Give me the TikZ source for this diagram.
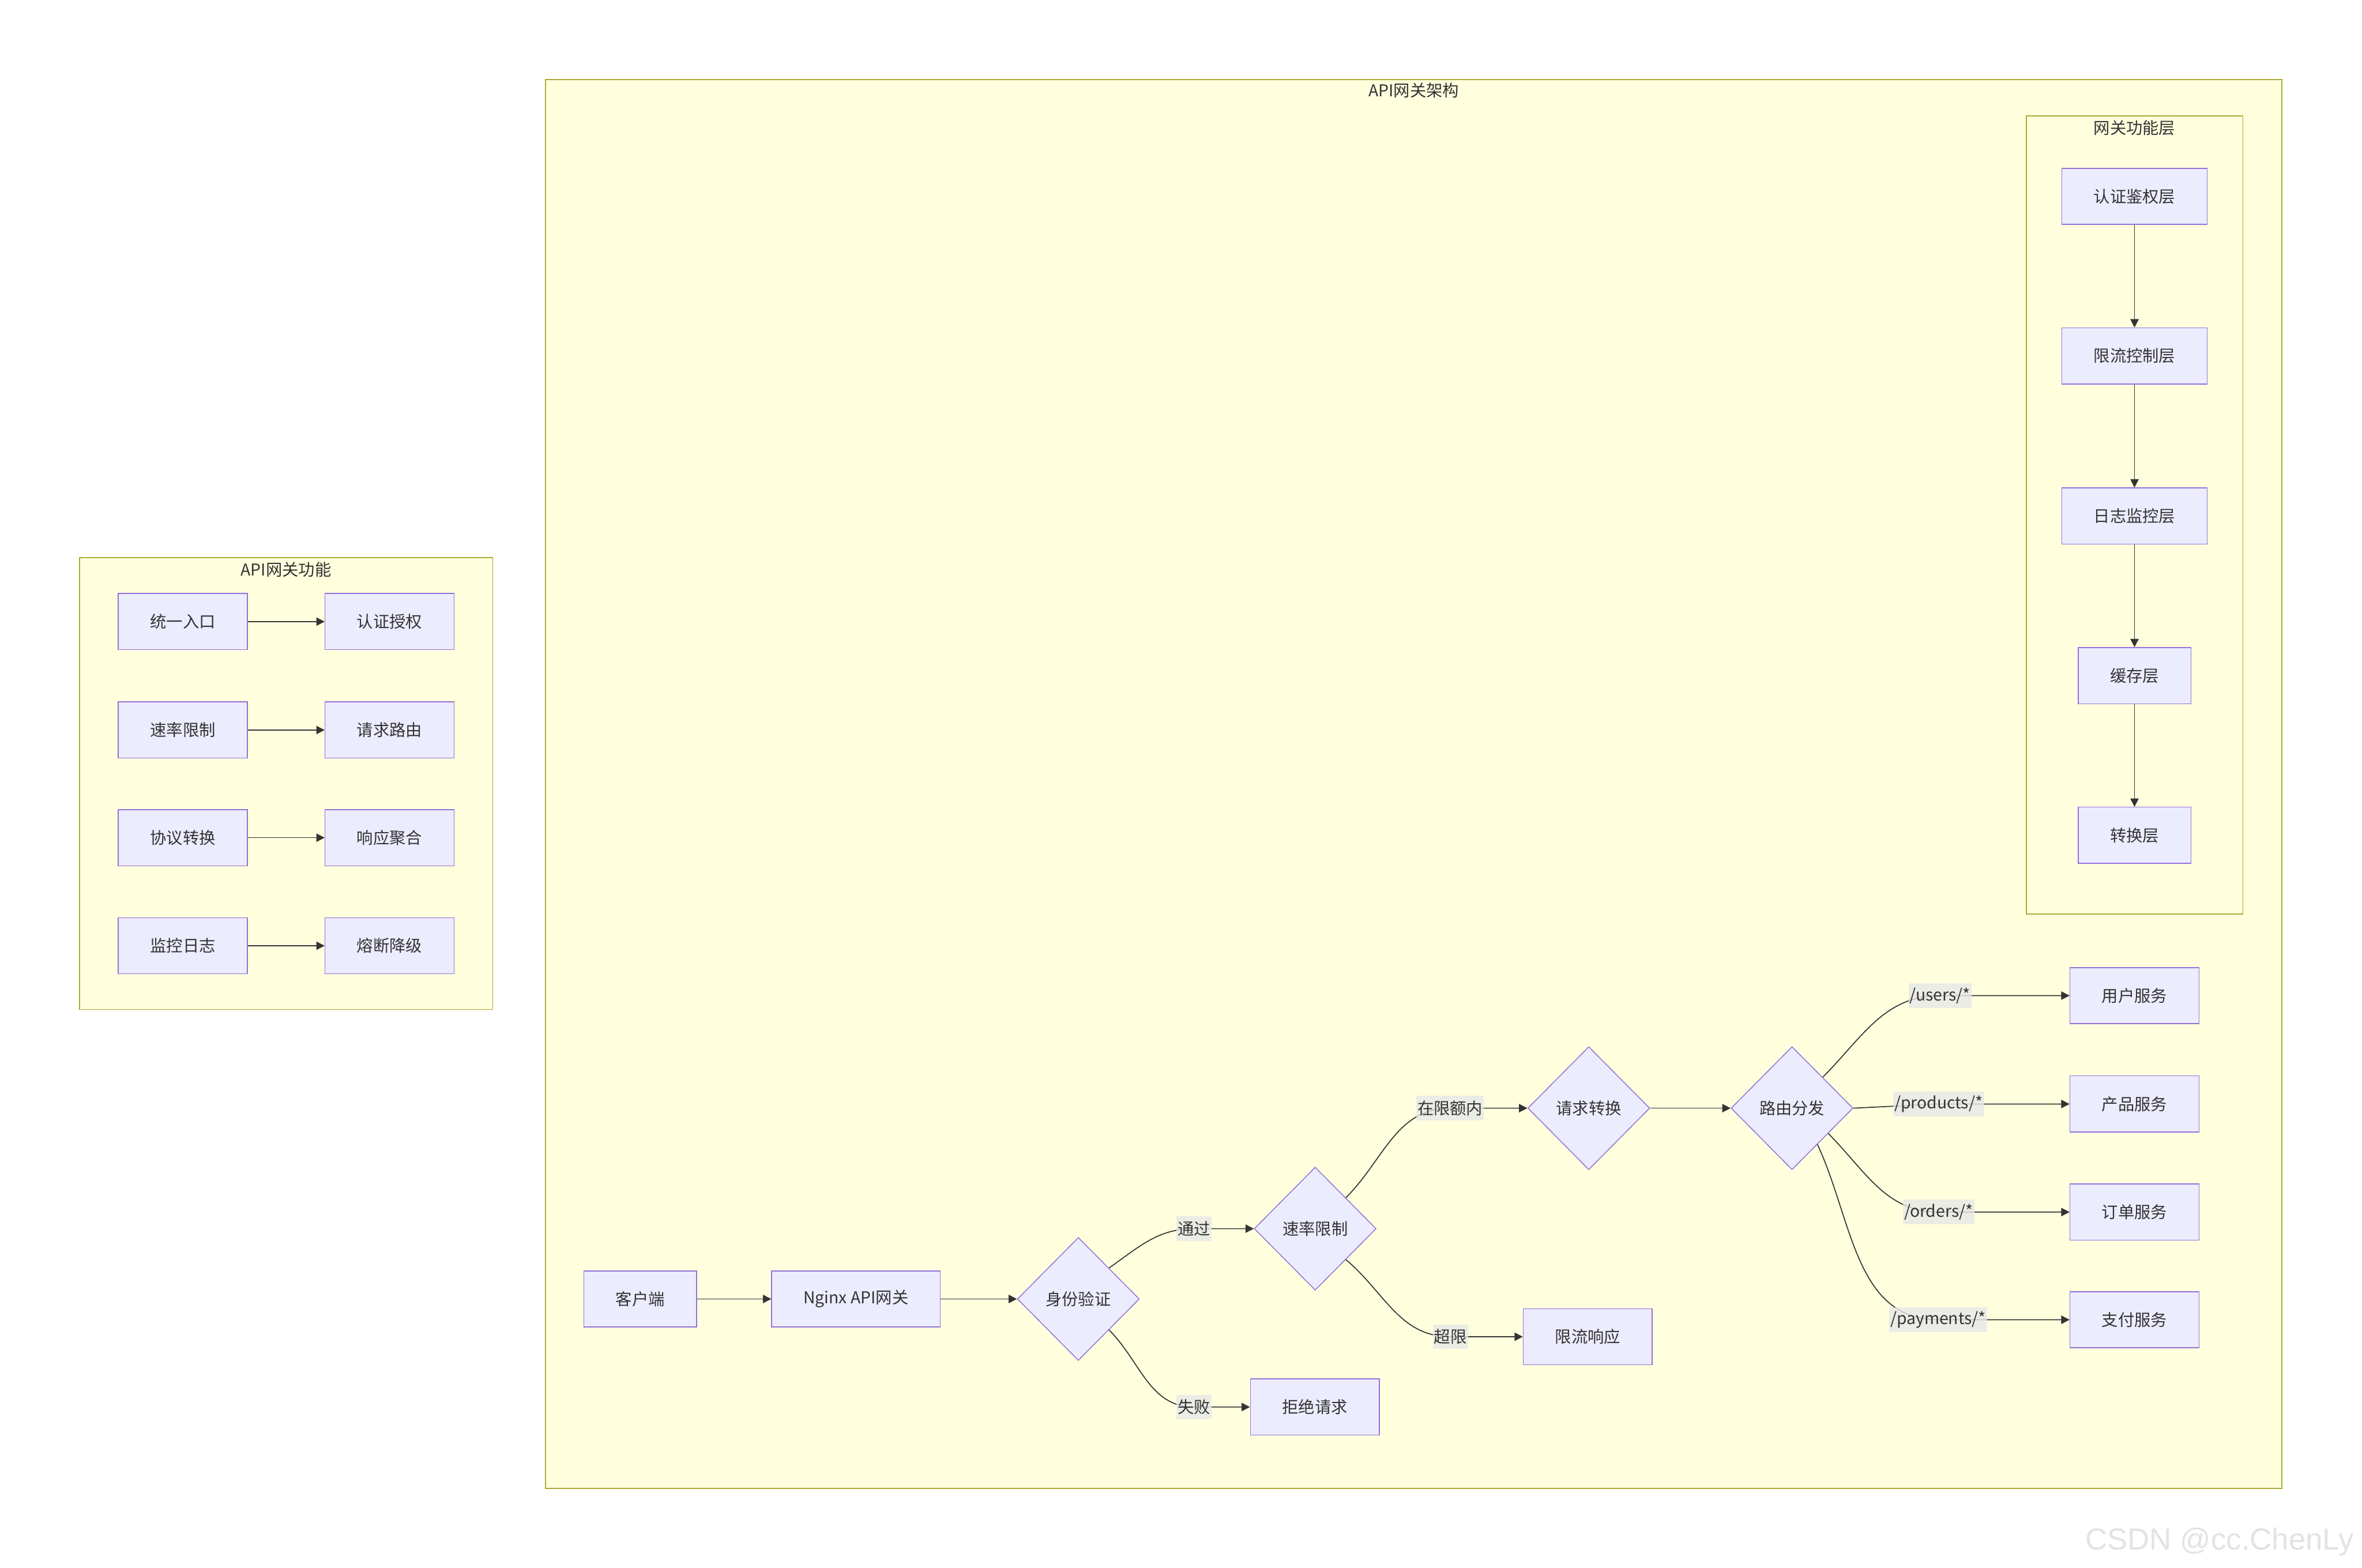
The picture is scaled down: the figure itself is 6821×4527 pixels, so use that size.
\documentclass[tikz,border=0pt]{standalone}
\usepackage{fontspec}
\setmainfont{Noto Sans CJK SC}
\newfontfamily\wmfont{Liberation Sans}
\usetikzlibrary{shapes.geometric,arrows.meta}
\definecolor{nodefill}{HTML}{ECECFF}
\definecolor{nodeline}{HTML}{9370DB}
\definecolor{clusterfill}{HTML}{FFFFDE}
\definecolor{clusterline}{HTML}{AAAA33}
\definecolor{textgray}{HTML}{333333}
\definecolor{labelgray}{HTML}{E8E8E8}

\begin{document}
\begin{tikzpicture}[x=0.01cm, y=-0.01cm,
    every node/.style={font=\fontsize{13.4pt}{16pt}\selectfont, text=textgray},
    box/.style={draw=nodeline, fill=nodefill, line width=0.7pt, inner xsep=0.92cm, minimum height=1.62cm},
    decision/.style={diamond, draw=nodeline, fill=nodefill, line width=0.7pt, inner sep=0pt, minimum width=3.52cm, minimum height=3.55cm},
    cluster/.style={draw=clusterline, fill=clusterfill, line width=0.9pt},
    flow/.style={draw=textgray, line width=0.8pt, -{Triangle[length=0.24cm,width=0.24cm]}},
    elabel/.style={fill=labelgray, fill opacity=0.8, text opacity=1, inner xsep=1pt, inner ysep=0pt, minimum height=0.71cm}]
  \useasboundingbox (0,0) rectangle (6821,4527);
  \fill[white] (0,0) rectangle (6821,4527);

  % clusters
  \draw[cluster] (230,1610) rectangle (1423,2915);
  \node (funcTitle) at (826,1645) {API网关功能};
  \draw[cluster] (1575,230) rectangle (6590,4298);
  \node (archTitle) at (4083,261) {API网关架构};
  \draw[cluster] (5851,335) rectangle (6477,2640);
  \node (layerTitle) at (6164,369) {网关功能层};

  % API网关功能
  \node[box] (entry) at (528,1795) {统一入口};
  \node[box] (authz) at (1125,1795) {认证授权};
  \node[box] (rateFn) at (528,2108) {速率限制};
  \node[box] (routing) at (1125,2108) {请求路由};
  \node[box] (protocol) at (528,2419) {协议转换};
  \node[box] (aggregate) at (1125,2419) {响应聚合};
  \node[box] (monitor) at (528,2731) {监控日志};
  \node[box] (breaker) at (1125,2731) {熔断降级};
  \foreach \a/\b in {entry/authz, rateFn/routing, protocol/aggregate, monitor/breaker}
    \draw[flow] (\a) -- (\b);

  % 网关功能层
  \node[box] (authLayer) at (6164,567) {认证鉴权层};
  \node[box] (limitLayer) at (6164,1028) {限流控制层};
  \node[box] (logLayer) at (6164,1490) {日志监控层};
  \node[box] (cacheLayer) at (6164,1951) {缓存层};
  \node[box] (convLayer) at (6164,2412) {转换层};
  \foreach \a/\b in {authLayer/limitLayer, limitLayer/logLayer, logLayer/cacheLayer, cacheLayer/convLayer}
    \draw[flow] (\a) -- (\b);

  % request flow
  \node[box] (client) at (1849,3751) {客户端};
  \node[box] (nginx) at (2472,3751) {Nginx API网关};
  \node[decision] (auth) at (3114,3751) {身份验证};
  \node[decision] (rate) at (3798,3548) {速率限制};
  \node[box] (reject) at (3797,4063) {拒绝请求};
  \node[decision] (convert) at (4588,3200) {请求转换};
  \node[box] (limited) at (4585,3860) {限流响应};
  \node[decision] (route) at (5175,3200) {路由分发};
  \node[box] (users) at (6164,2875) {用户服务};
  \node[box] (products) at (6164,3188) {产品服务};
  \node[box] (orders) at (6164,3500) {订单服务};
  \node[box] (payments) at (6164,3811) {支付服务};

  \draw[flow] (client) -- (nginx);
  \draw[flow] (nginx) -- (auth);
  \draw[flow] (auth.north east) to[out=35,in=180] ([xshift=-1.72cm]rate.west) node[elabel] {通过} -- (rate.west);
  \draw[flow] (auth.south east) to[out=-45,in=180] ([xshift=-1.61cm]reject.west) node[elabel] {失败} -- (reject.west);
  \draw[flow] (rate.north east) to[out=45,in=180] ([xshift=-2.23cm]convert.west) node[elabel] {在限额内} -- (convert.west);
  \draw[flow] (rate.south east) to[out=-40,in=180] ([xshift=-2.09cm]limited.west) node[elabel] {超限} -- (limited.west);
  \draw[flow] (convert) -- (route);
  \draw[flow] (route.north east) to[out=45,in=180] ([xshift=-3.74cm]users.west) node[elabel] {/users/*} -- (users.west);
  \draw[flow] (route.east) -- ([xshift=-3.78cm]products.west) node[elabel] {/products/*} -- (products.west);
  \draw[flow] (route.-35) to[out=-45,in=180] ([xshift=-3.78cm]orders.west) node[elabel] {/orders/*} -- (orders.west);
  \draw[flow] (route.-55) to[out=-65,in=180] ([xshift=-3.79cm]payments.west) node[elabel] {/payments/*} -- (payments.west);

  \node[font=\wmfont\fontsize{25pt}{30pt}\selectfont, text=black!11, anchor=base west] (watermark) at (6010,4476) {CSDN @cc.ChenLy};
\end{tikzpicture}
\end{document}
